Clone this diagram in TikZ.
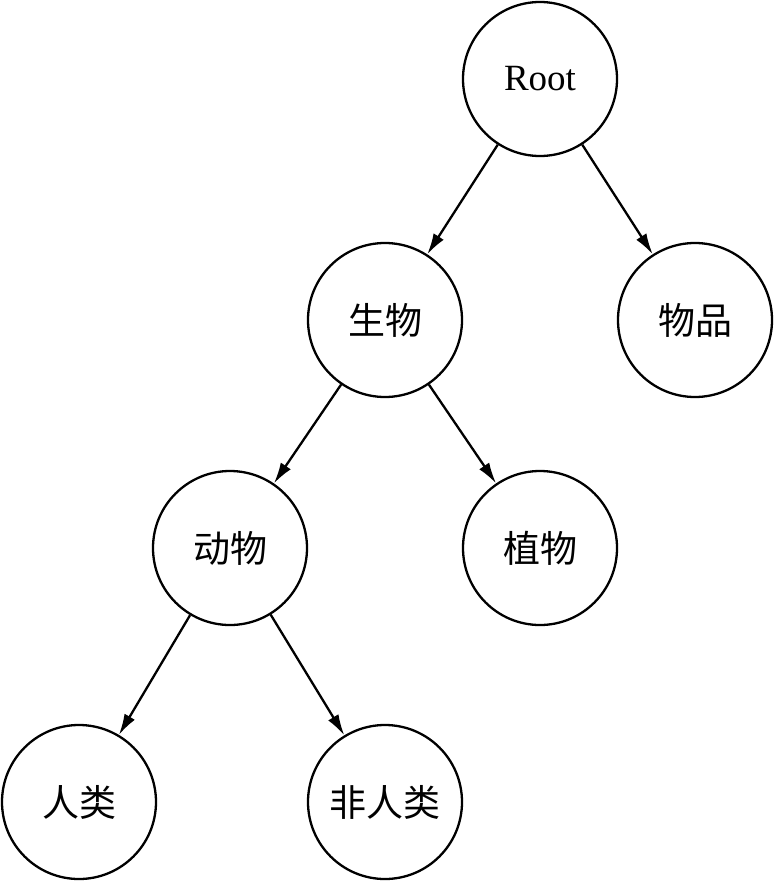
\documentclass[tikz,border=0pt]{standalone}
\usepackage{fontspec}
\setmainfont{Liberation Serif}
\newfontfamily\cjk{Noto Sans CJK SC}
\usetikzlibrary{arrows.meta}
\begin{document}
\begin{tikzpicture}[x=1pt,y=-1pt,
  tnode/.style={circle,draw,line width=2.3pt,minimum size=154pt,inner sep=0pt,font=\fontsize{37pt}{44pt}\selectfont},
  edge/.style={line width=2.3pt,-{Latex[length=21pt,width=12pt]}}]
\useasboundingbox (0,0) rectangle (774,883);
\node[tnode] (root) at (540,79) {Root};
\node[tnode] (sw) at (385,320) {\cjk 生物};
\node[tnode] (wp) at (695,320) {\cjk 物品};
\node[tnode] (dw) at (230,548) {\cjk 动物};
\node[tnode] (zw) at (540,548) {\cjk 植物};
\node[tnode] (rl) at (79,802) {\cjk 人类};
\node[tnode] (frl) at (385,802) {\cjk 非人类};
\draw[edge] (root) -- (sw);
\draw[edge] (root) -- (wp);
\draw[edge] (sw) -- (dw);
\draw[edge] (sw) -- (zw);
\draw[edge] (dw) -- (rl);
\draw[edge] (dw) -- (frl);
\end{tikzpicture}
\end{document}
